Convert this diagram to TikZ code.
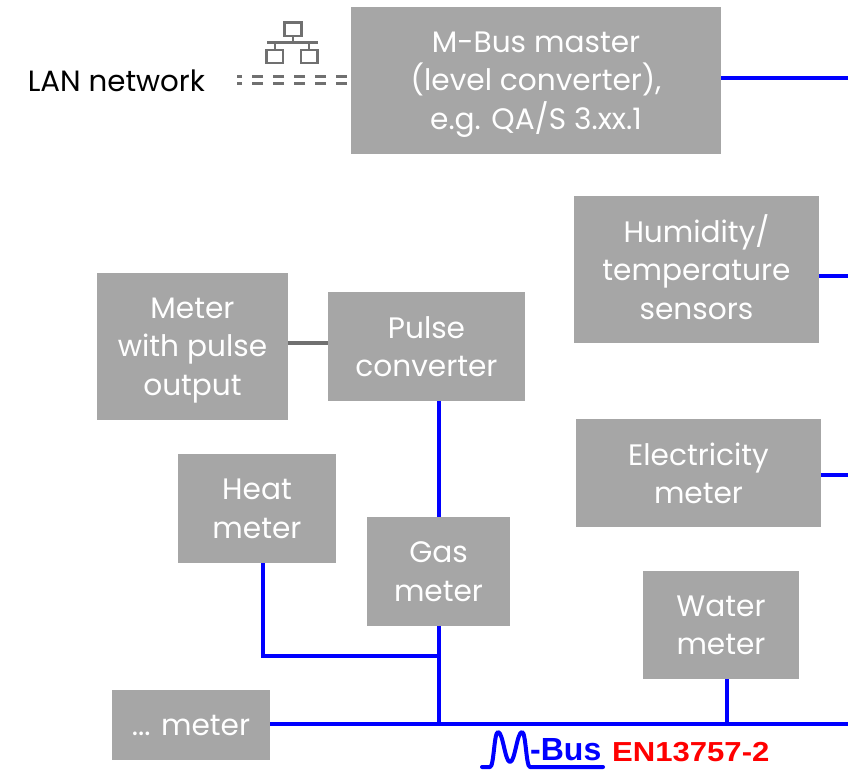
\documentclass[tikz,border=0pt]{standalone}
\usepackage{fontspec}
\setmainfont{Poppins}
\newfontfamily\logofont{Liberation Sans}
\newfontfamily\normfont[FakeStretch=1.13]{Liberation Sans}
\usepackage{xcolor}
\usetikzlibrary{positioning}
\definecolor{boxgray}{HTML}{A6A6A6}
\definecolor{icongray}{HTML}{707070}
\tikzset{
    meterbox/.style={fill=boxgray, text=white, align=center, inner sep=0pt, outer sep=0pt, text depth=0pt, font=\fontsize{29.6}{38.5}\selectfont},
    busline/.style={draw=blue, line width=4pt},
    lanline/.style={draw=icongray, line width=2.4pt},
    dashline/.style={draw=icongray, line width=3pt, dash pattern=on 11pt off 10pt},
}

\begin{document}
\begin{tikzpicture}[x=1pt, y=1pt]
    \useasboundingbox (0,0) rectangle (848,-769);

    % boxes
    \node[meterbox, anchor=north west, minimum width=370pt, minimum height=147pt] (master) at (351,-7) {M-Bus master\\(level converter),\\e.g. QA/S 3.xx.1};
    \node[meterbox, minimum width=245pt, minimum height=147pt] (humidity) [below right=42pt and -147pt of master] {Humidity\smash{/}\\temperature\\sensors};
    \node[meterbox, minimum width=245pt, minimum height=108pt] (electricity) [below right=76pt and -243pt of humidity] {Electricity\\meter};
    \node[meterbox, minimum width=156pt, minimum height=108pt] (water) [below right=44pt and -178pt of electricity] {Water\\meter};
    \node[meterbox, minimum width=197pt, minimum height=109pt] (pulse) [below right=138pt and -393pt of master] {Pulse\\converter};
    \node[meterbox, minimum width=191pt, minimum height=147pt] (pulsemeter) [left=40pt of pulse] {Meter\\with pulse\\output};
    \node[meterbox, minimum width=143pt, minimum height=109pt] (gas) [below right=116pt and -158pt of pulse] {Gas\\meter};
    \node[meterbox, minimum width=158pt, minimum height=109pt] (heat) [below right=34pt and -110pt of pulsemeter] {Heat\\meter};
    \node[meterbox, minimum width=158pt, minimum height=70pt] (other) [below right=127pt and -224pt of heat] {... meter};
    \node[inner sep=0pt, outer sep=0pt, font=\fontsize{29.3}{34}\selectfont] (lan) [left=146pt of master] {LAN network};

    % free ends of the bus
    \coordinate (masterend) at (848,-78);
    \coordinate (humidityend) at (848,-275.5);
    \coordinate (electricityend) at (848,-474.5);
    \coordinate (busend) at (848,-723.5);
    \coordinate (waterfoot) at (727,-723.5);
    \coordinate (heatjoin) at (263,-655.5);

    % bus lines
    \draw[busline] (master.east |- masterend) -- (masterend);
    \draw[busline] (humidity.east |- humidityend) -- (humidityend);
    \draw[busline] (electricity.east |- electricityend) -- (electricityend);
    \draw[busline] (other.east |- busend) -- (busend);
    \draw[busline] (waterfoot |- water.south) -- (waterfoot);
    \draw[busline] (gas.south) -- (gas.south |- busend);
    \draw[busline] (gas.north) -- (gas.north |- pulse.south);
    \draw[busline] (heatjoin |- heat.south) -- (heatjoin) -- (heatjoin -| gas.south);
    \draw[draw=icongray, line width=4pt] ([yshift=3.5pt]pulsemeter.east) -- ([yshift=3.5pt]pulse.west);

    % LAN connection
    \coordinate (lanupper) at (237,-76);
    \coordinate (lanlower) at (237,-83.5);
    \coordinate (masterupper) at (347,-76);
    \coordinate (masterlower) at (347,-83.5);
    \draw[dashline] (masterupper) -- (lanupper);
    \draw[dashline] (masterlower) -- (lanlower);

    % LAN icon
    \draw[lanline] (284.5,-22.5) rectangle (301.5,-36);
    \draw[lanline] (266.5,-50) rectangle (283,-63);
    \draw[lanline] (301,-50) rectangle (317.5,-63);
    \draw[lanline] (267,-42.5) -- (318,-42.5);
    \draw[lanline] (293,-36) -- (293,-42.5);
    \draw[lanline] (275,-42.5) -- (275,-50);
    \draw[lanline] (309,-42.5) -- (309,-50);

    % M-Bus logo
    \draw[busline, line cap=round, line join=round] (482,-767) -- (490,-767)
        .. controls (494,-767) and (494,-732) .. (498,-732)
        .. controls (503,-732) and (505,-762) .. (510,-762)
        .. controls (515,-762) and (517,-732) .. (522,-732)
        .. controls (526,-732) and (526,-767) .. (530,-767) -- (603,-767);
    \node[anchor=base west, inner sep=0pt, text=blue, font=\logofont\bfseries\fontsize{32}{36}\selectfont] (bus) at (530,-760) {-Bus};
    \node[anchor=base west, inner sep=0pt, text=red, font=\normfont\bfseries\fontsize{27.5}{30}\selectfont] (norm) at (612,-761) {EN13757-2};
\end{tikzpicture}
\end{document}
